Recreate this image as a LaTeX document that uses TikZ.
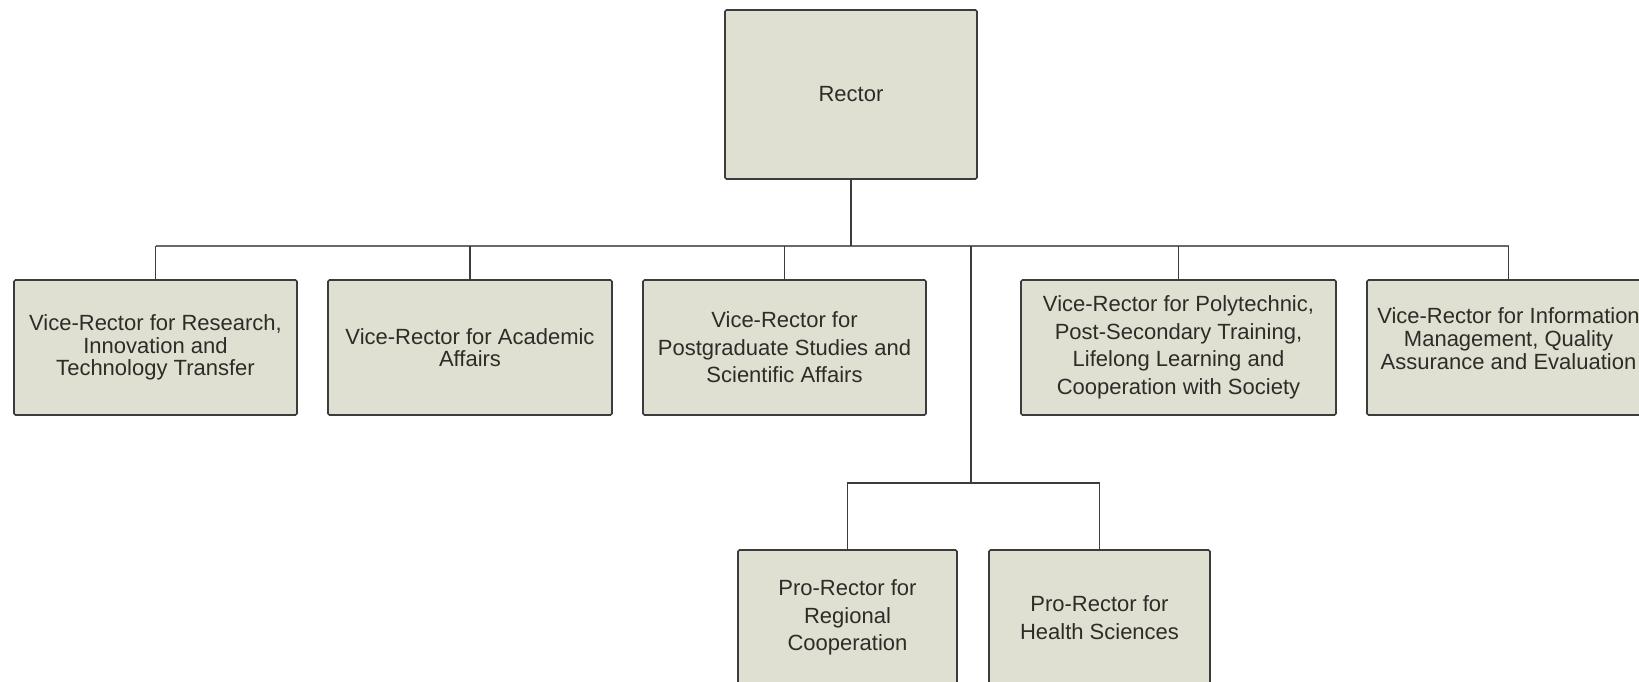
\documentclass[tikz,border=0pt]{standalone}
\usepackage{fontspec}
\setmainfont{Liberation Sans}
\definecolor{boxfill}{RGB}{223,223,210}
\definecolor{boxline}{RGB}{60,60,60}
\definecolor{boxtext}{RGB}{45,45,40}
\definecolor{busgray}{RGB}{105,105,105}
\begin{document}
\begin{tikzpicture}[x=1pt,y=-1pt,
  orgbox/.style={draw=boxline, line width=1.6pt, fill=boxfill,
    rounded corners=1.5pt, inner sep=0pt, align=center,
    text=boxtext, font=\fontsize{22}{22.5}\selectfont},
  widelines/.style={font=\fontsize{22}{27.5}\selectfont},
  boxlabel/.style={inner sep=0pt, align=center, text=boxtext,
    font=\fontsize{22}{23}\selectfont},
  link/.style={draw=boxline, line width=1.6pt},
  buslink/.style={draw=busgray, line width=2pt}]
\useasboundingbox (0,0) rectangle (1639,682);
\clip (0,0) rectangle (1639,682);

% top
\node[orgbox, minimum width=252pt, minimum height=169pt] (rector) at (851,94.5) {Rector};

% vice-rectors
\node[orgbox, minimum width=283pt, minimum height=135pt] (vr1) at (155.5,347.5)
  {Vice-Rector for Research,\\Innovation and\\Technology Transfer};
\node[orgbox, minimum width=284pt, minimum height=135pt] (vr2) at (470,347.5)
  {Vice-Rector for Academic\\Affairs};
\node[orgbox, widelines, minimum width=283pt, minimum height=135pt] (vr3) at (784.5,347.5)
  {Vice-Rector for\\Postgraduate Studies and\\Scientific Affairs};
\node[orgbox, widelines, minimum width=315pt, minimum height=135pt] (vr4) at (1178.5,347.5)
  {Vice-Rector for Polytechnic,\\Post-Secondary Training,\\Lifelong Learning and\\Cooperation with Society};
\node[orgbox, minimum width=283pt, minimum height=135pt] (vr5) at (1508.5,347.5) {};
\node[boxlabel] (vr5text) at ([yshift=8.5pt]vr5.center)
  {Vice-Rector for Information\\Management, Quality\\Assurance and Evaluation};

% pro-rectors
\node[orgbox, widelines, minimum width=219pt, minimum height=135pt] (pr1) at (847.5,617.5)
  {Pro-Rector for\\Regional\\Cooperation};
\node[orgbox, widelines, minimum width=221pt, minimum height=135pt] (pr2) at (1099.5,617.5)
  {Pro-Rector for\\Health Sciences};

% junction points
\coordinate (busy) at (0,246);
\coordinate (split) at (971,246);
\coordinate (lowbus) at (971,483);

% main bus
\draw[buslink] (vr1.north |- busy) -- (vr5.north |- busy);
\draw[link] (rector.south) -- (rector.south |- busy);
\foreach \v in {vr1,vr2,vr3,vr4,vr5}
  \draw[link] (\v.north) -- (\v.north |- busy);

% branch to pro-rectors
\draw[link] (split) -- (lowbus);
\draw[link] (pr1.north) |- (lowbus);
\draw[link] (pr2.north) |- (lowbus);
\end{tikzpicture}
\end{document}
